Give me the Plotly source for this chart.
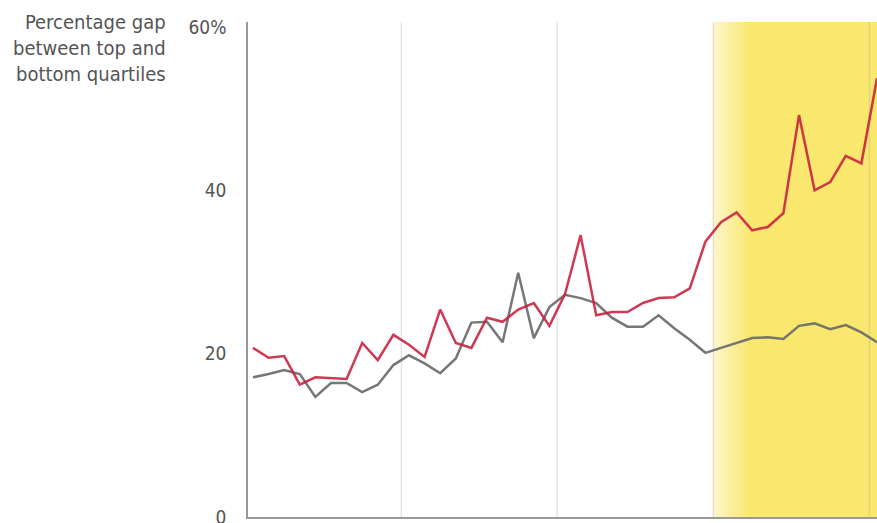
import plotly.graph_objects as go

# yearly values, 1970-2010
years = list(range(1970, 2011))

top_gap = [20.7, 19.5, 19.7, 16.2, 17.1, 17.0, 16.9, 21.3, 19.2, 22.3,
           21.1, 19.6, 25.4, 21.3, 20.7, 24.4, 23.9, 25.4, 26.2, 23.4,
           27.3, 34.5, 24.7, 25.1, 25.1, 26.2, 26.8, 26.9, 28.0, 33.7,
           36.1, 37.3, 35.1, 35.5, 37.2, 49.2, 40.0, 41.0, 44.2, 43.3,
           53.7]

bottom_gap = [17.1, 17.5, 18.0, 17.5, 14.7, 16.4, 16.4, 15.3, 16.2, 18.6,
              19.8, 18.8, 17.6, 19.4, 23.8, 23.9, 21.4, 29.9, 21.9, 25.7,
              27.2, 26.8, 26.2, 24.4, 23.3, 23.3, 24.7, 23.1, 21.7, 20.1,
              20.7, 21.3, 21.9, 22.0, 21.8, 23.4, 23.7, 23.0, 23.5, 22.6,
              21.4]

y_ticks = [0, 20, 40, 60]
y_tick_text = ["0", "20", "40", "60%"]
decade_lines = [1979.5, 1989.5, 1999.5, 2009.5]

FONT = "DejaVu Sans Condensed, Liberation Sans Narrow, sans-serif"

fig = go.Figure()

# yellow highlight, fading in from the left over ~2.5 years
steps = 12
fade_start, fade_width = 1999.5, 2.4
for i in range(steps):
    x0 = fade_start + fade_width * i / steps
    x1 = fade_start + fade_width * (i + 1) / steps
    fig.add_shape(type="rect", xref="x", yref="paper", x0=x0, x1=x1 + 0.02, y0=0, y1=1,
                  fillcolor="rgb(250, 231, 110)", opacity=0.3 + 0.7 * (i + 1) / steps,
                  line_width=0, layer="below")
fig.add_shape(type="rect", xref="x", yref="paper", x0=fade_start + fade_width, x1=2010.5,
              y0=0, y1=1, fillcolor="rgb(250, 231, 110)", line_width=0, layer="below")

# decade lines drawn over the highlight
for xv in decade_lines:
    fig.add_shape(type="line", xref="x", yref="paper", x0=xv, x1=xv, y0=0, y1=1,
                  line=dict(color="rgba(160, 160, 160, 0.4)", width=1), layer="below")

fig.add_trace(go.Scatter(
    x=years, y=bottom_gap, mode="lines", name="Bottom",
    line=dict(color="rgb(105, 105, 105)", width=2.5), opacity=0.9,
    hovertemplate="%{x}: %{y:.1f}%<extra></extra>"
))
fig.add_trace(go.Scatter(
    x=years, y=top_gap, mode="lines", name="Top",
    line=dict(color="rgb(200, 30, 60)", width=2.5), opacity=0.88,
    hovertemplate="%{x}: %{y:.1f}%<extra></extra>"
))

fig.add_annotation(
    text="Percentage gap<br>between top and<br>bottom quartiles",
    xref="paper", yref="paper", x=0, y=1, xanchor="right", yanchor="top",
    xshift=-80, yshift=14, align="right", showarrow=False,
    font=dict(family=FONT, size=20, color="#555555")
)

fig.update_xaxes(
    range=[1969.68, 2010], showticklabels=False, showgrid=False, automargin=False,
    showline=True, linecolor="#999999", linewidth=1.5, zeroline=False, ticks=""
)
fig.update_yaxes(
    range=[0, 60.6], tickvals=y_ticks, ticktext=y_tick_text, automargin=False,
    showgrid=False, zeroline=False, showline=True, linecolor="#999999",
    linewidth=1.5, ticks="", ticklabelstandoff=16, ticklabeloverflow="allow",
    tickfont=dict(family=FONT, size=19, color="#555555")
)

fig.update_layout(
    width=877, height=523,
    margin=dict(l=248, r=0, t=22, b=6),
    paper_bgcolor="white", plot_bgcolor="white",
    showlegend=False,
)

# drop the page's default body margin so the figure fills the window
fig.write_html("out.html", config={"displayModeBar": False},
               post_script="document.body.style.margin='0';")
